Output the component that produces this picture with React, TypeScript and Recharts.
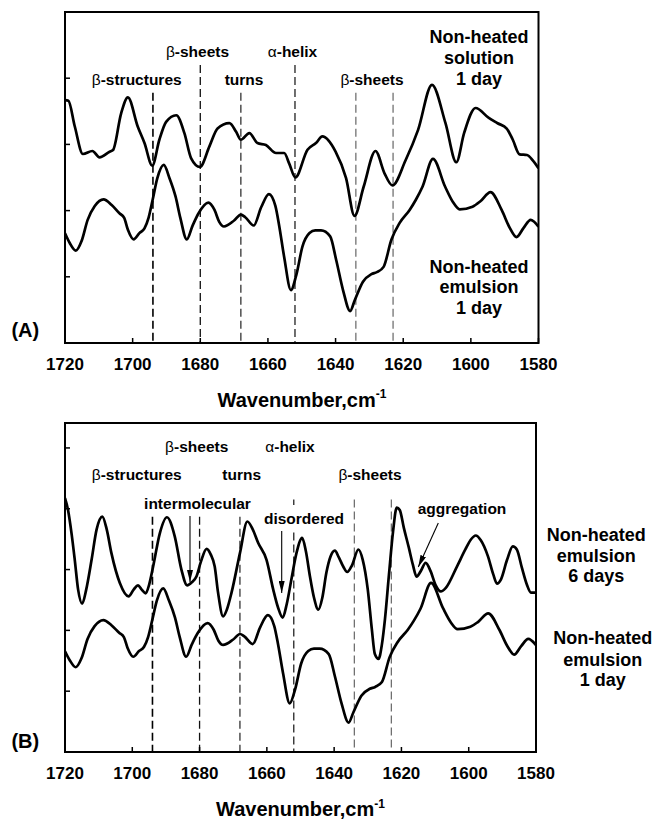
import React from 'react';
import { LineChart, Line, XAxis, YAxis, ReferenceLine, ReferenceArea } from 'recharts';

const FONT = '"Liberation Sans", Arial, Helvetica, sans-serif';

// x axis ticks (wavenumber, cm-1)
const xTicks = [1720, 1700, 1680, 1660, 1640, 1620, 1600, 1580];
const yTicksA = [0, 1, 2, 3, 4];
const yTicksB = [0, 1, 2, 3, 4, 5];

// Non-heated solution, 1 day (panel A, upper)
const wnSolution1d = [1720, 1719, 1717.1, 1714.7, 1711.9, 1709.8, 1706.8, 1705.8, 1703.4, 1701.4, 1698.5, 1696.5, 1694.2, 1692.1, 1690.1, 1687.1, 1684.7, 1682.7, 1680.1, 1677.3, 1674.9, 1671.4, 1669.4, 1668.0, 1665.5, 1663.1, 1660.6, 1657.6, 1655.2, 1653.7, 1651.9, 1648.3, 1645.8, 1643.9, 1640.0, 1636.9, 1634.4, 1631.7, 1628.2, 1625.5, 1623.2, 1619.3, 1615.6, 1611.5, 1607.5, 1604.3, 1602.0, 1598.6, 1594.7, 1592.1, 1589.4, 1587.6, 1585.6, 1583.4, 1581.7, 1580];
const absSolution1d = [3.67, 3.66, 3.27, 2.855, 2.9, 2.805, 2.89, 2.915, 3.47, 3.71, 3.27, 3.02, 2.68, 3.07, 3.34, 3.44, 3.17, 2.79, 2.66, 2.97, 3.24, 3.32, 3.19, 3.07, 3.17, 3.02, 2.99, 2.87, 2.87, 2.71, 2.5, 2.92, 3.02, 3.12, 2.89, 2.49, 1.92, 2.36, 2.9, 2.56, 2.38, 2.76, 3.22, 3.9, 3.32, 2.73, 3.17, 3.55, 3.4, 3.32, 3.24, 3.07, 2.85, 2.84, 2.76, 2.64];

// Non-heated emulsion, 1 day (panel A lower, panel B lower)
const wnEmulsion1d = [1720, 1718.6, 1716.8, 1715.1, 1713.3, 1711.2, 1708.6, 1706.2, 1703.9, 1702.5, 1701.4, 1699.7, 1698.0, 1696.5, 1695.3, 1694.1, 1692.7, 1690.8, 1689.1, 1687.3, 1685.9, 1684.0, 1682.3, 1680.5, 1677.6, 1675.8, 1674.4, 1673.0, 1670.0, 1668.0, 1666.7, 1664.2, 1662.0, 1659.7, 1657.8, 1656.7, 1655.2, 1653.2, 1651.6, 1649.8, 1647.7, 1646.0, 1644.3, 1641.6, 1639.8, 1637.8, 1635.7, 1634.3, 1631.9, 1629.4, 1627.8, 1625.8, 1623.5, 1621.1, 1618.1, 1616.3, 1614.3, 1611.2, 1607.6, 1605.3, 1603.3, 1599.5, 1597.1, 1594.2, 1590.9, 1588.5, 1586.5, 1584.4, 1582.3, 1580];
const absEmulsion1d = [1.657, 1.51, 1.394, 1.54, 1.86, 2.07, 2.17, 2.085, 1.96, 1.89, 1.71, 1.566, 1.66, 1.73, 1.89, 2.16, 2.49, 2.69, 2.49, 2.21, 1.89, 1.566, 1.77, 1.96, 2.12, 2.01, 1.83, 1.76, 1.85, 1.94, 1.9, 1.775, 2.05, 2.25, 2.07, 1.78, 1.3, 0.8, 1.03, 1.455, 1.66, 1.7, 1.7, 1.61, 1.25, 0.8, 0.483, 0.65, 0.926, 1.04, 1.07, 1.15, 1.56, 1.81, 2.01, 2.16, 2.36, 2.78, 2.36, 2.13, 2.02, 2.06, 2.145, 2.28, 2.01, 1.74, 1.6, 1.74, 1.86, 1.757];

// Non-heated emulsion, 6 days (panel B, upper)
const wnEmulsion6d = [1720, 1719.1, 1718.0, 1717.1, 1716.1, 1714.9, 1713.7, 1712.1, 1710.6, 1708.9, 1707.6, 1706.2, 1703.7, 1701.1, 1699.6, 1698.3, 1697.2, 1696.0, 1695.0, 1693.8, 1691.8, 1689.7, 1687.4, 1685.4, 1683.7, 1682.3, 1680.9, 1679.6, 1677.9, 1676.7, 1675.5, 1674.5, 1673.0, 1671.9, 1670.5, 1668.0, 1665.8, 1664.2, 1662.6, 1660.1, 1658.1, 1656.7, 1655.3, 1654.1, 1652.7, 1651.2, 1649.5, 1648.4, 1647.2, 1646.0, 1644.7, 1643.5, 1642.3, 1641.1, 1639.8, 1638.6, 1637.3, 1636.1, 1634.7, 1632.8, 1631.5, 1630.0, 1628.8, 1627.9, 1626.8, 1625.8, 1624.9, 1623.7, 1622.5, 1621.4, 1620.5, 1619.3, 1617.8, 1616.6, 1615.5, 1614.3, 1612.8, 1611.3, 1609.8, 1608.3, 1606.8, 1603.5, 1601.0, 1599.4, 1597.9, 1596.4, 1594.3, 1592.7, 1591.6, 1590.4, 1588.6, 1586.9, 1585.7, 1584.2, 1582.7, 1581.5, 1580];
const absEmulsion6d = [4.175, 3.98, 3.57, 3.16, 2.67, 2.44, 2.67, 3.16, 3.66, 3.87, 3.66, 3.27, 2.78, 2.56, 2.67, 2.74, 2.67, 2.61, 2.75, 3.05, 3.6, 3.86, 3.55, 3.0, 2.74, 2.79, 2.89, 3.13, 3.34, 3.25, 3.05, 2.62, 2.23, 2.34, 2.62, 3.27, 3.79, 3.66, 3.44, 3.16, 2.67, 2.38, 2.21, 2.43, 2.84, 3.27, 3.52, 3.3, 2.89, 2.54, 2.34, 2.54, 2.95, 3.21, 3.31, 3.2, 3.05, 2.96, 3.07, 3.33, 3.16, 2.67, 2.02, 1.61, 1.53, 1.77, 2.18, 2.92, 3.62, 4.02, 3.98, 3.69, 3.36, 3.08, 2.885, 2.97, 3.11, 2.97, 2.74, 2.64, 2.7, 3.05, 3.33, 3.49, 3.56, 3.48, 3.22, 2.92, 2.77, 2.84, 3.16, 3.38, 3.33, 3.03, 2.75, 2.62, 2.62];

// band assignment positions (dashed lines)
const bandWn = [1694, 1680, 1668, 1652, 1634, 1623];
const bandTopA = [3.78, 4.2, 3.78, 4.2, 3.78, 3.78];
const bandTopB = [3.87, 3.87, 3.87, 4.15, 4.15, 4.15];
const bandColor = ['#000', '#111', '#222', '#222', '#666', '#666'];
const bandWidth = [1.6, 1.3, 1.2, 1.3, 1.2, 1.2];

const zip = (wn: number[], v: number[]) => wn.map((w, i) => ({ wn: w, v: v[i] }));
const solution1d = zip(wnSolution1d, absSolution1d);
const emulsion1d = zip(wnEmulsion1d, absEmulsion1d);
const emulsion6d = zip(wnEmulsion6d, absEmulsion6d);

const tickStyle = { fill: '#000', fontSize: 17, fontWeight: 'bold', fontFamily: FONT };

function axes(yMax: number, yTicks: number[]) {
  return [
    <XAxis
      key="x"
      dataKey="wn"
      type="number"
      domain={[1580, 1720]}
      reversed
      allowDataOverflow
      ticks={xTicks}
      interval={0}
      tickSize={-5}
      tickMargin={20}
      height={67}
      axisLine={{ stroke: '#000', strokeWidth: 2 }}
      tickLine={{ stroke: '#000', strokeWidth: 1.5 }}
      tick={tickStyle}
    />,
    <YAxis
      key="y"
      type="number"
      domain={[0, yMax]}
      allowDataOverflow
      ticks={yTicks}
      interval={0}
      tickSize={-5}
      width={65}
      tickFormatter={() => ''}
      axisLine={{ stroke: '#000', strokeWidth: 2 }}
      tickLine={{ stroke: '#000', strokeWidth: 1.5 }}
    />,
    <ReferenceArea
      key="frame"
      x1={1720}
      x2={1580}
      y1={0}
      y2={yMax}
      fill="none"
      fillOpacity={0}
      stroke="#000"
      strokeWidth={2}
      ifOverflow="visible"
    />,
  ];
}

function bandLines(tops: number[], extraGap?: boolean) {
  const out: any[] = [];
  bandWn.forEach((w, i) => {
    if (extraGap && w === 1652) {
      out.push(
        <ReferenceLine key={'b' + i + 'a'} segment={[{ x: w, y: tops[i] }, { x: w, y: 4.06 }]} stroke={bandColor[i]} strokeWidth={bandWidth[i]} strokeDasharray="8 4" ifOverflow="visible" />
      );
      out.push(
        <ReferenceLine key={'b' + i + 'b'} segment={[{ x: w, y: 3.61 }, { x: w, y: 0 }]} stroke={bandColor[i]} strokeWidth={bandWidth[i]} strokeDasharray="8 4" ifOverflow="visible" />
      );
    } else {
      out.push(
        <ReferenceLine key={'b' + i} segment={[{ x: w, y: tops[i] }, { x: w, y: 0 }]} stroke={bandColor[i]} strokeWidth={bandWidth[i]} strokeDasharray="8 4" ifOverflow="visible" />
      );
    }
  });
  return out;
}

const Greek = ({ label }: { label: string }) => {
  const g = label.charAt(0);
  return (
    <>
      <tspan fontWeight="normal">{g}</tspan>
      {label.slice(1)}
    </>
  );
};

type Ann = { t: string; x: number; y: number; s?: number; greek?: boolean };

const annotations: Ann[] = [
  { t: 'β-sheets', x: 197.5, y: 57.3, greek: true },
  { t: 'α-helix', x: 292.5, y: 57.3, greek: true },
  { t: 'β-structures', x: 136.7, y: 85.3, greek: true },
  { t: 'turns', x: 244, y: 85.3 },
  { t: 'β-sheets', x: 372, y: 85.3, greek: true },
  { t: 'Non-heated', x: 479, y: 43.3, s: 18 },
  { t: 'solution', x: 479, y: 64, s: 18 },
  { t: '1 day', x: 479, y: 84.5, s: 18 },
  { t: 'Non-heated', x: 479, y: 272.7, s: 18 },
  { t: 'emulsion', x: 479, y: 293.3, s: 18 },
  { t: '1 day', x: 479, y: 314, s: 18 },
  { t: '(A)', x: 25.3, y: 337.3, s: 20 },
  { t: 'β-sheets', x: 196.7, y: 452, greek: true },
  { t: 'α-helix', x: 290, y: 452, greek: true },
  { t: 'β-structures', x: 136.7, y: 480, greek: true },
  { t: 'turns', x: 241.7, y: 480 },
  { t: 'β-sheets', x: 370, y: 480, greek: true },
  { t: 'intermolecular', x: 197.5, y: 509.3 },
  { t: 'disordered', x: 304, y: 524 },
  { t: 'aggregation', x: 462, y: 514 },
  { t: 'Non-heated', x: 596.3, y: 540.7, s: 18 },
  { t: 'emulsion', x: 596.3, y: 561.7, s: 18 },
  { t: '6 days', x: 596.3, y: 581.7, s: 18 },
  { t: 'Non-heated', x: 602.8, y: 644.3, s: 18 },
  { t: 'emulsion', x: 602.8, y: 665.7, s: 18 },
  { t: '1 day', x: 602.8, y: 685.7, s: 18 },
  { t: '(B)', x: 25.3, y: 748.3, s: 20 },
];

const arrows = [
  { x1: 190, y1: 516, x2: 190, y2: 582 },
  { x1: 281.7, y1: 531, x2: 281.7, y2: 593 },
  { x1: 438.3, y1: 523, x2: 418.3, y2: 567 },
];

export default function App() {
  return (
    <div style={{ position: 'absolute', left: 0, top: 0, width: 654, height: 819, background: '#fff' }}>
      <div style={{ position: 'absolute', left: 0, top: 0 }}>
        <LineChart width={654} height={410} margin={{ top: 12, right: 115.5, bottom: 0, left: 0 }}>
          {axes(5, yTicksA)}
          {bandLines(bandTopA)}
          <Line data={solution1d} dataKey="v" type="monotone" stroke="#000" strokeWidth={2.7} dot={false} isAnimationActive={false} />
          <Line data={emulsion1d} dataKey="v" type="monotone" stroke="#000" strokeWidth={2.7} dot={false} isAnimationActive={false} />
        </LineChart>
      </div>
      <div style={{ position: 'absolute', left: 0, top: 410 }}>
        <LineChart width={654} height={409} margin={{ top: 13, right: 118, bottom: 0, left: 0 }}>
          {axes(5.41, yTicksB)}
          {bandLines(bandTopB, true)}
          <Line data={emulsion6d} dataKey="v" type="monotone" stroke="#000" strokeWidth={2.7} dot={false} isAnimationActive={false} />
          <Line data={emulsion1d} dataKey="v" type="monotone" stroke="#000" strokeWidth={2.7} dot={false} isAnimationActive={false} />
        </LineChart>
      </div>
      <svg width={654} height={819} style={{ position: 'absolute', left: 0, top: 0, pointerEvents: 'none' }}>
        <defs>
          <marker id="ah" markerWidth="12" markerHeight="6" refX="12" refY="3" orient="auto" markerUnits="userSpaceOnUse">
            <path d="M0,0 L12,3 L0,6 z" fill="#000" />
          </marker>
        </defs>
        {annotations.map((a, i) => (
          <text key={i} x={a.x} y={a.y} textAnchor="middle" fontFamily={FONT} fontWeight="bold" fontSize={a.s || 15.5} fill="#000">
            {a.greek ? <Greek label={a.t} /> : a.t}
          </text>
        ))}
        {arrows.map((a, i) => (
          <line key={i} x1={a.x1} y1={a.y1} x2={a.x2} y2={a.y2} stroke="#000" strokeWidth={1.1} markerEnd="url(#ah)" />
        ))}
        <text x={302} y={406.5} textAnchor="middle" fontFamily={FONT} fontWeight="bold" fontSize={20} fill="#000">
          Wavenumber,cm<tspan dy={-8.5} fontSize={12}>-1</tspan>
        </text>
        <text x={300.5} y={816} textAnchor="middle" fontFamily={FONT} fontWeight="bold" fontSize={20} fill="#000">
          Wavenumber,cm<tspan dy={-8.5} fontSize={12}>-1</tspan>
        </text>
      </svg>
    </div>
  );
}
